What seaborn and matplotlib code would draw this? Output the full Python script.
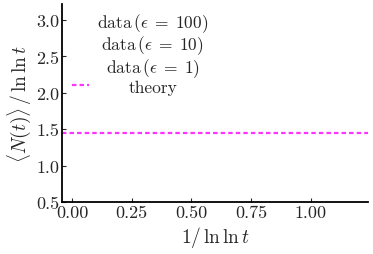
import matplotlib
matplotlib.use("Agg")
import matplotlib.pyplot as plt
import seaborn as sns
import numpy as np

# data series (no points visible in the reference -> empty)
eps_labels = ["100", "10", "1"]
data_x = [[], [], []]
data_y = [[], [], []]

# theory: constant 1/ln 2
theory_x = [-0.042, 1.24]
theory_y = [1.4427, 1.4427]

x_ticks = [0.0, 0.25, 0.5, 0.75, 1.0]
y_ticks = [0.5, 1.0, 1.5, 2.0, 2.5, 3.0]

sns.set_theme(style="ticks")
plt.rcParams["font.family"] = "serif"
plt.rcParams["font.serif"] = ["cmr10"]
plt.rcParams["mathtext.fontset"] = "cm"
plt.rcParams["axes.formatter.use_mathtext"] = True
plt.rcParams["axes.unicode_minus"] = False

fig = plt.figure(figsize=(3.73, 2.55), dpi=100)
ax = fig.add_axes([0.166, 0.204, 0.821, 0.776])

for lab, xs, ys in zip(eps_labels, data_x, data_y):
    ax.plot(xs, ys, linestyle="none", marker="None",
            label=r"data$\,(\epsilon\;=\;%s)$" % lab)

sns.lineplot(x=theory_x, y=theory_y, ax=ax, color="#ff33ff", lw=1.6,
             linestyle=(0, (2.0, 1.4)), label="theory")

ax.set_xlim(theory_x[0], theory_x[1])
ax.set_ylim(0.5, 3.22)
ax.set_xticks(x_ticks)
ax.set_xticklabels([f"{v:.2f}" for v in x_ticks])
ax.set_yticks(y_ticks)
ax.set_yticklabels([f"{v:.1f}" for v in y_ticks])
ax.tick_params(direction="in", length=3, width=0.8, labelsize=13, pad=2)
sns.despine(ax=ax)
for s in ["left", "bottom"]:
    ax.spines[s].set_linewidth(1.3)
    ax.spines[s].set_color("black")

ax.set_xlabel(r"$1/\,\ln\ln t$", fontsize=14, labelpad=3)
ax.set_ylabel(r"$\langle N(t)\rangle\,/\,\ln\ln t$", fontsize=14, labelpad=2)

leg = ax.legend(loc="upper left", frameon=False, fontsize=12.5,
                handlelength=1.0, handletextpad=0.45, labelspacing=0.0,
                borderaxespad=0.0, bbox_to_anchor=(0.01, 1.0))

# center legend texts on each other
fig.canvas.draw()
widths = [t.get_window_extent().width for t in leg.get_texts()]
wmax = max(widths)
for t, w in zip(leg.get_texts(), widths):
    t.set_x((wmax - w) / 2)

fig.savefig("out.png", dpi=100)
